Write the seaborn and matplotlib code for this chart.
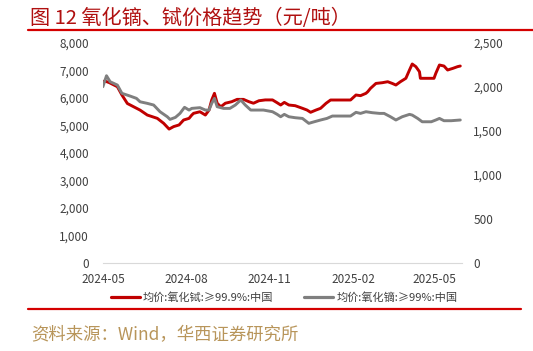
import pandas as pd
import numpy as np
import seaborn as sns
import matplotlib
matplotlib.use("Agg")
import matplotlib.pyplot as plt
import matplotlib.dates as mdates
from matplotlib.ticker import FuncFormatter, MultipleLocator
from matplotlib.lines import Line2D

################################################################################
# data

tb_dates = ['2024-05-01','2024-05-03','2024-05-08','2024-05-17','2024-05-22','2024-05-28',
            '2024-06-04','2024-06-11','2024-06-19','2024-06-30','2024-07-07','2024-07-13',
            '2024-07-18','2024-07-24','2024-07-29','2024-08-04','2024-08-07','2024-08-09',
            '2024-08-16','2024-08-22','2024-08-26','2024-08-29','2024-09-01','2024-09-04',
            '2024-09-08','2024-09-13','2024-09-20','2024-09-26','2024-10-03','2024-10-09',
            '2024-10-14','2024-10-20','2024-10-27','2024-11-04','2024-11-09','2024-11-13',
            '2024-11-17','2024-11-22','2024-11-29','2024-12-07','2024-12-12','2024-12-16',
            '2024-12-22','2024-12-27','2025-01-02','2025-01-07','2025-01-14','2025-01-29',
            '2025-02-04','2025-02-09','2025-02-15','2025-02-17','2025-02-20','2025-02-26',
            '2025-03-05','2025-03-11','2025-03-16','2025-03-20','2025-03-25','2025-03-31',
            '2025-04-04','2025-04-07','2025-04-11','2025-04-15','2025-04-16','2025-04-24',
            '2025-05-01','2025-05-03','2025-05-07','2025-05-12','2025-05-16','2025-05-22',
            '2025-05-27','2025-05-30']
tb_price = [6580,6620,6560,6410,6110,5800,
            5680,5560,5380,5260,5080,4870,
            4960,5020,5200,5260,5380,5443,
            5500,5380,5560,5930,6170,5810,
            5680,5810,5865,5950,5950,5865,
            5810,5900,5930,5930,5830,5745,
            5840,5745,5720,5625,5563,5480,
            5563,5625,5807,5927,5927,5927,
            6109,6085,6170,6229,6350,6530,
            6556,6592,6530,6472,6592,6716,
            7018,7236,7140,6955,6716,6716,
            6716,6897,7200,7163,7018,7080,
            7140,7163]

dy_dates = ['2024-05-01','2024-05-05','2024-05-09','2024-05-17','2024-05-22','2024-05-31',
            '2024-06-07','2024-06-11','2024-06-19','2024-06-26','2024-07-03','2024-07-11',
            '2024-07-14','2024-07-20','2024-07-25','2024-07-30','2024-08-04','2024-08-07',
            '2024-08-16','2024-08-22','2024-08-26','2024-08-29','2024-09-01','2024-09-04',
            '2024-09-11','2024-09-18','2024-09-24','2024-09-30','2024-10-05','2024-10-11',
            '2024-10-18','2024-10-25','2024-11-04','2024-11-09','2024-11-13','2024-11-17',
            '2024-11-22','2024-11-29','2024-12-07','2024-12-14','2024-12-20','2024-12-27',
            '2025-01-03','2025-01-09','2025-01-29','2025-02-04','2025-02-09','2025-02-15',
            '2025-02-22','2025-03-02','2025-03-07','2025-03-14','2025-03-20','2025-03-27',
            '2025-04-04','2025-04-07','2025-04-13','2025-04-18','2025-04-28','2025-05-03',
            '2025-05-07','2025-05-12','2025-05-20','2025-05-30']
dy_price = [2003,2128,2060,2022,1928,1897,
            1871,1832,1814,1795,1719,1662,
            1632,1655,1700,1769,1738,1757,
            1765,1738,1738,1814,1871,1776,
            1757,1757,1795,1852,1795,1738,
            1738,1738,1719,1690,1662,1689,
            1662,1651,1643,1587,1605,1625,
            1643,1670,1670,1712,1700,1719,
            1708,1700,1700,1662,1625,1662,
            1689,1681,1643,1605,1605,1625,
            1643,1617,1617,1625]

tb_label = '均价:氧化铽:≥99.9%:中国'
dy_label = '均价:氧化镝:≥99%:中国'

################################################################################

sns.set_style('white')
plt.rcParams['font.family'] = ['Noto Sans CJK SC', 'DejaVu Sans']

red = '#C00000'
grey = '#7F7F7F'
tick_col = '#404040'

df_tb = pd.DataFrame({'date': pd.to_datetime(tb_dates), 'price': tb_price})
df_dy = pd.DataFrame({'date': pd.to_datetime(dy_dates), 'price': dy_price})

fig = plt.figure(figsize=(5.33, 3.51), dpi=100)
ax = fig.add_axes([0.193, 0.2507, 0.674, 0.6268])
ax2 = ax.twinx()

sns.lineplot(data=df_tb, x='date', y='price', ax=ax, color=red, lw=2.1)
sns.lineplot(data=df_dy, x='date', y='price', ax=ax2, color=grey, lw=2.1)

ax.set_ylim(0, 8000)
ax2.set_ylim(0, 2500)
ax.set_xlim(pd.Timestamp('2024-05-01'), pd.Timestamp('2025-06-01'))
ax.yaxis.set_major_locator(MultipleLocator(1000))
ax2.yaxis.set_major_locator(MultipleLocator(500))
fmt = FuncFormatter(lambda v, p: f'{int(v):,}')
ax.yaxis.set_major_formatter(fmt)
ax2.yaxis.set_major_formatter(fmt)

ax.xaxis.set_major_locator(mdates.MonthLocator(bymonth=[2, 5, 8, 11]))
ax.xaxis.set_major_formatter(mdates.DateFormatter('%Y-%m'))

for a in (ax, ax2):
    a.set_xlabel('')
    a.set_ylabel('')
    for s in a.spines.values():
        s.set_visible(False)
    a.tick_params(axis='y', length=0, labelsize=8.5, colors=tick_col)
ax.tick_params(axis='y', pad=10)
ax2.tick_params(axis='y', pad=8)
ax.spines['bottom'].set_visible(True)
ax.spines['bottom'].set_color('#D9D9D9')
ax.tick_params(axis='x', length=4, direction='inout', color='#D9D9D9',
               labelsize=8.5, labelcolor=tick_col, pad=5)

handles = [Line2D([], [], color=red, lw=2.3), Line2D([], [], color=grey, lw=2.3)]
fig.legend(handles, [tb_label, dy_label], loc='center', bbox_to_anchor=(0.533, 0.152),
           ncol=2, frameon=False, fontsize=8, handlelength=2.6, handletextpad=0.3,
           columnspacing=2.8, labelcolor=tick_col)

fig.text(0.056, 0.948, '图 12 氧化镝、铽价格趋势（元/吨）', fontsize=14.5, color='#B01010',
         ha='left', va='center')
fig.add_artist(Line2D([0.053, 1.0], [0.914, 0.914], color='#D40000', lw=1.6))
fig.add_artist(Line2D([0.053, 0.977], [0.119, 0.119], color='#D40000', lw=1.6))
fig.text(0.058, 0.045, '资料来源：Wind，华西证券研究所', fontsize=12.5, color='#B8955A',
         ha='left', va='center')

fig.savefig('out.png', dpi=100)
